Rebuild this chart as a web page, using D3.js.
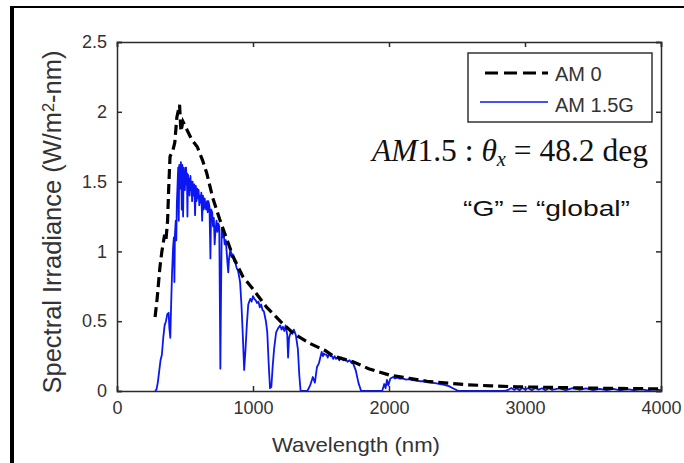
<!DOCTYPE html>
<html>
<head>
<meta charset="utf-8">
<script src="https://cdn.jsdelivr.net/npm/d3@7"></script>
<style>
  body { margin: 0; background: #fff; }
  svg { display: block; }
</style>
</head>
<body>
<svg id="chart" width="684" height="463"></svg>
<script>
// AM 0 (extraterrestrial) spectrum
var am0Wl  = [280, 295, 315, 330, 350, 360, 372, 380, 390, 410, 425, 440, 460, 470, 485, 515, 550, 590,
              630, 660, 705, 755, 810, 855, 925, 1000, 1100, 1200, 1300, 1420, 1530, 1590,
              1735, 1850, 2000, 2150, 2280, 2450, 2570, 2750, 2940, 3250, 3550, 3800, 4000];
var am0Val = [0.53, 0.66, 0.88, 1.0, 1.12, 1.08, 1.22, 1.45, 1.68, 1.72, 1.78, 1.96, 2.05, 1.86, 1.93, 1.87, 1.8, 1.75,
              1.65, 1.56, 1.38, 1.23, 1.08, 0.96, 0.82, 0.73, 0.6, 0.5, 0.41, 0.34, 0.29, 0.25,
              0.21, 0.16, 0.115, 0.09, 0.07, 0.055, 0.045, 0.037, 0.03, 0.025, 0.02, 0.017, 0.015];

// AM 1.5G (global) spectrum
var am15Wl  = [280, 290, 300, 310, 320, 330, 340, 350, 360, 370, 380, 385, 392, 398, 405, 412, 418, 422,
               426, 432, 436, 440, 443, 446, 450, 454, 458, 461, 464, 467, 470, 473, 476, 480, 483, 486,
               490, 493, 496, 499, 502, 505, 508, 511, 514, 518, 522, 526, 530, 534, 540, 544, 548, 552,
               556, 559, 562, 565, 568, 574, 580, 585, 590, 595, 600, 605, 610, 615, 620, 626, 632, 638,
               645, 650, 656, 662, 667, 672, 680, 687, 692, 700, 706, 712, 718, 724, 732, 738, 745, 752,
               757, 760, 764, 770, 778, 785, 792, 800, 806, 812, 818, 824, 835, 842, 850, 860, 870, 880,
               890, 898, 905, 915, 925, 935, 945, 955, 965, 980, 990, 1000, 1010, 1020, 1030, 1040,
               1050, 1060, 1070, 1080, 1095, 1105, 1115, 1125, 1135, 1145, 1155, 1170, 1185, 1200, 1210,
               1220, 1230, 1240, 1252, 1258, 1265, 1280, 1290, 1300, 1315, 1330, 1340, 1350, 1400, 1420,
               1440, 1455, 1470, 1485, 1495, 1505, 1515, 1520, 1530, 1540, 1550, 1560, 1570, 1580, 1590,
               1600, 1610, 1620, 1635, 1650, 1665, 1680, 1695, 1710, 1725, 1735, 1755, 1775, 1795, 1950,
               1965, 1975, 1985, 1995, 2010, 2030, 2045, 2060, 2080, 2100, 2125, 2150, 2175, 2200, 2225,
               2250, 2275, 2300, 2325, 2350, 2375, 2400, 2440, 2470, 2500, 2520, 2850, 2880, 2900, 2920,
               2940, 2960, 2980, 3000, 3025, 3050, 3075, 3100, 3125, 3150, 3175, 3200, 3250, 3300, 3350,
               3400, 3450, 3500, 3550, 3600, 3650, 3700, 3750, 3800, 3850, 3900, 3950, 4000];
var am15Val = [0, 0.01, 0.06, 0.14, 0.22, 0.26, 0.38, 0.47, 0.5, 0.55, 0.56, 0.45, 0.38, 0.62, 0.85, 1.02, 1.1, 0.78,
               1.12, 1.22, 1.08, 1.34, 1.42, 1.5, 1.6, 1.22, 1.62, 1.5, 1.6, 1.45, 1.64, 1.55, 1.3, 1.62, 1.52, 1.25,
               1.6, 1.5, 1.58, 1.44, 1.55, 1.6, 1.6, 1.48, 1.56, 1.25, 1.55, 1.45, 1.52, 1.4, 1.54, 1.44, 1.5, 1.36,
               1.5, 1.42, 1.4, 1.47, 1.48, 1.26, 1.47, 1.36, 1.45, 1.38, 1.44, 1.33, 1.4, 1.35, 1.42, 1.22, 1.4, 1.3,
               1.38, 1.32, 1.3, 1.36, 1.28, 1.36, 1.32, 0.95, 1.3, 1.28, 1.18, 1.24, 1.05, 1.15, 1.22, 1.14, 1.2, 1.18,
               0.55, 0.16, 0.6, 1.16, 1.1, 1.12, 1.05, 1.08, 1.0, 0.92, 0.85, 0.95, 1.02, 0.96, 0.98, 0.93, 0.92, 0.88,
               0.86, 0.82, 0.78, 0.62, 0.4, 0.15, 0.3, 0.48, 0.62, 0.66, 0.64, 0.68, 0.66, 0.65, 0.63, 0.64,
               0.6, 0.62, 0.58, 0.57, 0.5, 0.42, 0.2, 0.02, 0.03, 0.18, 0.3, 0.42, 0.45, 0.47, 0.44,
               0.46, 0.43, 0.47, 0.4, 0.24, 0.38, 0.43, 0.41, 0.44, 0.4, 0.3, 0.12, 0, 0, 0.04,
               0.1, 0.06, 0.17, 0.2, 0.24, 0.28, 0.25, 0.27, 0.26, 0.26, 0.24, 0.27, 0.25, 0.25, 0.23,
               0.25, 0.23, 0.24, 0.22, 0.24, 0.22, 0.23, 0.21, 0.22, 0.2, 0.2, 0.15, 0.06, 0, 0,
               0.05, 0.02, 0.08, 0.04, 0.09, 0.1, 0.09, 0.095, 0.088, 0.09, 0.082, 0.085, 0.078, 0.075, 0.07,
               0.07, 0.064, 0.06, 0.058, 0.055, 0.05, 0.045, 0.035, 0.02, 0.005, 0, 0, 0.01, 0.022, 0.008,
               0.02, 0.005, 0.022, 0.012, 0.02, 0.006, 0.022, 0.01, 0.02, 0.005, 0.02, 0.008, 0.018, 0.006, 0.02,
               0.009, 0.018, 0.007, 0.016, 0.006, 0.015, 0.005, 0.014, 0.006, 0.013, 0.005, 0.012, 0.006];

var xTicks = [0, 1000, 2000, 3000, 4000];
var yTicks = [0, 0.5, 1, 1.5, 2, 2.5];
var seriesNames = ["AM 0", "AM 1.5G"];

var svg = d3.select("#chart");
var plot = {left: 117, top: 42, right: 661, bottom: 391};

var x = d3.scaleLinear().domain([0, 4000]).range([plot.left, plot.right]);
var y = d3.scaleLinear().domain([0, 2.5]).range([plot.bottom, plot.top]);

// outer frame (left and top edges of the slide box)
svg.append("rect").attr("x", 10).attr("y", 6).attr("width", 4).attr("height", 457).attr("fill", "#000");
svg.append("rect").attr("x", 10).attr("y", 6).attr("width", 674).attr("height", 2).attr("fill", "#000");

svg.append("clipPath").attr("id", "clip")
  .append("rect")
    .attr("x", plot.left).attr("y", plot.top)
    .attr("width", plot.right - plot.left).attr("height", plot.bottom - plot.top);

var line = d3.line()
    .x(function (d) { return x(d[0]); })
    .y(function (d) { return y(d[1]); });

var g = svg.append("g").attr("clip-path", "url(#clip)");

g.append("path")
    .datum(d3.zip(am15Wl, am15Val))
    .attr("d", line)
    .attr("fill", "none")
    .attr("stroke", "#0b17f2")
    .attr("stroke-width", 1.8)
    .attr("stroke-linejoin", "round");

g.append("path")
    .datum(d3.zip(am0Wl, am0Val))
    .attr("d", line)
    .attr("fill", "none")
    .attr("stroke", "#000")
    .attr("stroke-width", 3.2)
    .attr("stroke-dasharray", "10,5");

// axes, MATLAB style box with inward ticks
var axisColor = "#2b2b2b";
var font = "'Liberation Sans', Arial, sans-serif";

function styleAxis(a) {
    a.select(".domain").attr("stroke", axisColor).attr("stroke-width", 1.5);
    a.selectAll("line").attr("stroke", axisColor).attr("stroke-width", 1.5);
    a.selectAll("text").attr("font-family", font).attr("font-size", 18).attr("fill", "#333");
}

svg.append("g")
    .attr("transform", "translate(0," + plot.bottom + ")")
    .call(d3.axisBottom(x).tickValues(xTicks).tickSize(-5).tickPadding(10).tickFormat(d3.format("d")))
    .call(styleAxis);

svg.append("g")
    .attr("transform", "translate(0," + plot.top + ")")
    .call(d3.axisTop(x).tickValues(xTicks).tickSize(-5).tickFormat(""))
    .call(styleAxis);

svg.append("g")
    .attr("transform", "translate(" + plot.left + ",0)")
    .call(d3.axisLeft(y).tickValues(yTicks).tickSize(-5).tickPadding(10).tickFormat(d3.format("")))
    .call(styleAxis);

svg.append("g")
    .attr("transform", "translate(" + plot.right + ",0)")
    .call(d3.axisRight(y).tickValues(yTicks).tickSize(-5).tickFormat(""))
    .call(styleAxis);

// scale a text's font so that it spans the given width
function fitFont(sel, base, width) {
    var len = sel.node().getComputedTextLength();
    sel.attr("font-size", base * width / len);
}

// axis titles
svg.append("text")
    .attr("x", 356).attr("y", 452)
    .attr("text-anchor", "middle")
    .attr("font-family", font).attr("font-size", 21).attr("fill", "#333")
    .attr("textLength", 168).attr("lengthAdjust", "spacingAndGlyphs")
    .text("Wavelength (nm)");

var yl = svg.append("text")
    .attr("transform", "translate(61,222) rotate(-90)")
    .attr("text-anchor", "middle")
    .attr("font-family", font).attr("font-size", 21).attr("fill", "#333");
yl.append("tspan").text("Spectral Irradiance (W/m");
yl.append("tspan").attr("dy", "-0.4em").attr("font-size", "0.65em").text("2");
yl.append("tspan").attr("dy", "0.26em").text("-nm)");
fitFont(yl, 21, 343);

// legend
var legend = svg.append("g");
legend.append("rect")
    .attr("x", 468).attr("y", 53).attr("width", 184).attr("height", 69)
    .attr("fill", "#fff").attr("stroke", "#333").attr("stroke-width", 1.5);
legend.append("line")
    .attr("x1", 485).attr("x2", 548).attr("y1", 73).attr("y2", 73)
    .attr("stroke", "#000").attr("stroke-width", 3).attr("stroke-dasharray", "13,6");
legend.append("line")
    .attr("x1", 480).attr("x2", 548).attr("y1", 102).attr("y2", 102)
    .attr("stroke", "#0b17f2").attr("stroke-width", 1.4);
legend.selectAll("text.lab")
    .data(seriesNames)
  .enter().append("text")
    .attr("class", "lab")
    .attr("x", 555)
    .attr("y", function (d, i) { return 81 + i * 31; })
    .attr("font-family", font).attr("font-size", 20).attr("fill", "#333")
    .text(function (d) { return d; });

// annotations
var serif = "'Liberation Serif', 'Times New Roman', serif";
var ann = svg.append("text")
    .attr("x", 372).attr("y", 161)
    .attr("font-family", serif).attr("font-size", 27).attr("fill", "#111");
ann.append("tspan").attr("font-style", "italic").text("AM");
ann.append("tspan").text("1.5 :  ");
ann.append("tspan").attr("font-style", "italic").text("θ");
ann.append("tspan").attr("font-style", "italic").attr("font-size", "0.65em").attr("dy", "0.25em").text("x");
ann.append("tspan").attr("dy", "-0.16em").text(" = 48.2 deg");
fitFont(ann, 27, 276);

svg.append("text")
    .attr("x", 463).attr("y", 216)
    .attr("font-family", font).attr("font-size", 22).attr("fill", "#111")
    .attr("textLength", 167).attr("lengthAdjust", "spacingAndGlyphs")
    .text("\u201CG\u201D = \u201Cglobal\u201D");
</script>
</body>
</html>
